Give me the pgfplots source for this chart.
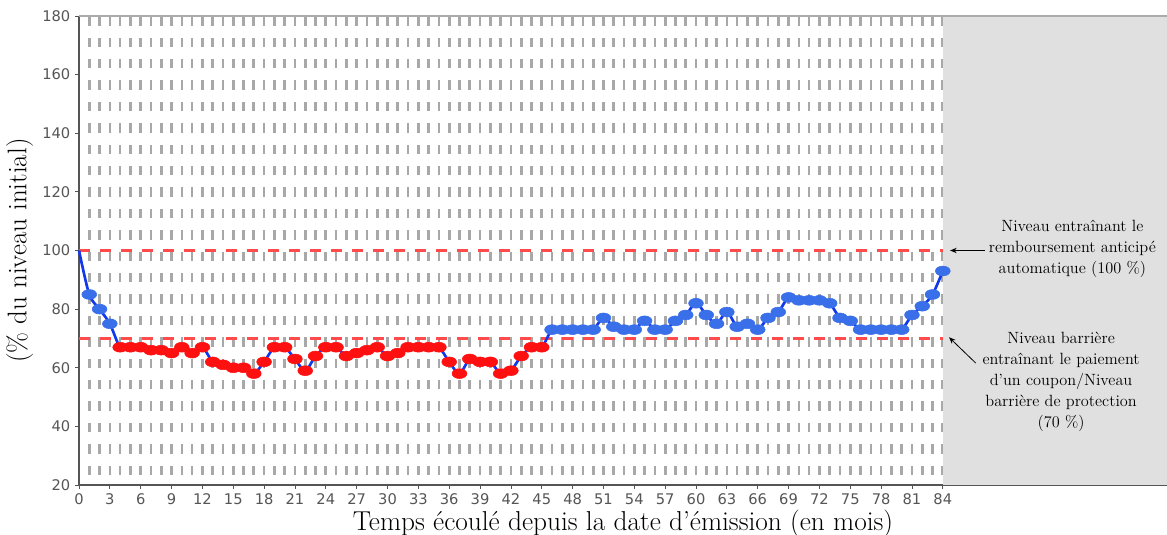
\documentclass[border=0pt]{standalone}
\usepackage{fontspec}
\usepackage{pgfplots}
\usepackage{pgfplotstable}
\pgfplotsset{compat=1.18}
\usetikzlibrary{arrows.meta}

\newfontfamily\tickfont{DejaVu Sans}

\definecolor{lineblue}{HTML}{1238EE}
\definecolor{mkblue}{HTML}{3A6FEA}
\definecolor{mkred}{HTML}{FF1010}
\definecolor{refred}{HTML}{FF4B4B}
\definecolor{gridgrey}{HTML}{A8A8A8}
\definecolor{regionfill}{HTML}{E0E0E0}
\definecolor{axisgrey}{HTML}{555555}
\definecolor{topgrey}{HTML}{ABABAB}

% mois, niveau (% du niveau initial), classe du point (b = au-dessus de 70, r = en dessous)
\pgfplotstableread{
m v c
0 100 b
1 85 b
2 80 b
3 75 b
4 67 r
5 67 r
6 67 r
7 66 r
8 66 r
9 65 r
10 67 r
11 65 r
12 67 r
13 62 r
14 61 r
15 60 r
16 60 r
17 58 r
18 62 r
19 67 r
20 67 r
21 63 r
22 59 r
23 64 r
24 67 r
25 67 r
26 64 r
27 65 r
28 66 r
29 67 r
30 64 r
31 65 r
32 67 r
33 67 r
34 67 r
35 67 r
36 62 r
37 58 r
38 63 r
39 62 r
40 62 r
41 58 r
42 59 r
43 64 r
44 67 r
45 67 r
46 73 b
47 73 b
48 73 b
49 73 b
50 73 b
51 77 b
52 74 b
53 73 b
54 73 b
55 76 b
56 73 b
57 73 b
58 76 b
59 78 b
60 82 b
61 78 b
62 75 b
63 79 b
64 74 b
65 75 b
66 73 b
67 77 b
68 79 b
69 84 b
70 83 b
71 83 b
72 83 b
73 82 b
74 77 b
75 76 b
76 73 b
77 73 b
78 73 b
79 73 b
80 73 b
81 78 b
82 81 b
83 85 b
84 93 b
}\niveau

\begin{document}
\begin{tikzpicture}
\begin{axis}[
    set layers,
    scale only axis,
    width=816pt, height=351.75pt,
    xmin=0, xmax=105.8,
    ymin=20, ymax=180,
    xtick={0,3,...,84},
    ytick={20,40,...,180},
    extra x ticks={1,2,...,84},
    extra x tick labels={},
    extra x tick style={
        grid=major,
        major tick length=0pt,
        major grid style={gridgrey, line width=2pt, dash pattern=on 7pt off 9.05pt, dash phase=8.55pt},
    },
    axis x line*=bottom,
    axis y line*=left,
    axis line style={axisgrey, line width=0.9pt},
    tick align=outside,
    major tick length=3pt,
    tick style={axisgrey, line width=0.6pt},
    tick label style={font=\tickfont\fontsize{11}{13}\selectfont, text=axisgrey},
    /pgf/number format/assume math mode=true,
    clip=false,
]
\coordinate (sw) at (rel axis cs:0,0);
\coordinate (ne) at (rel axis cs:1,1);

\fill[regionfill, on layer=axis background] (axis cs:84,20) rectangle (axis cs:105.8,180);
\draw[topgrey, line width=1.3pt] (rel axis cs:0,1) -- (rel axis cs:1,1);

\addplot[refred, line width=2pt, dash pattern=on 8.25pt off 7.5pt] coordinates {(0,100) (84,100)};
\addplot[refred, line width=2pt, dash pattern=on 8.25pt off 7.5pt] coordinates {(0,70) (84,70)};

\addplot[scatter, only marks, restrict x to domain=0.5:90,
    scatter src=explicit symbolic,
    mark options={xscale=1.5},
    scatter/classes={b={mark=*, mark size=3.7pt, mkblue}, r={mark=*, mark size=3.7pt, mkred}}]
    table[x=m, y=v, meta=c] \niveau;

\addplot[lineblue, line width=2pt, smooth, tension=0.5, no markers] table[x=m, y=v] \niveau;

\node[align=center, font=\fontsize{12.2}{15.75}\selectfont] at (axis cs:96.6,100.6)
    {Niveau entraînant le\\remboursement anticipé\\automatique (100~\%)};
\node[align=center, font=\fontsize{12.2}{15.75}\selectfont] at (axis cs:95.5,55.3)
    {Niveau barrière\\entraînant le paiement\\d’un coupon/Niveau\\barrière de protection\\(70~\%)};
\draw[-{Stealth[length=5pt,width=4pt]}, line width=0.6pt] (axis cs:88.1,100) -- (axis cs:84.7,100);
\draw[-{Stealth[length=5pt,width=4pt]}, line width=0.6pt] (axis cs:87.2,61.6) -- (axis cs:84.6,70.4);

\node[anchor=base, font=\fontsize{20.5}{22}\selectfont] at ([yshift=-34.5pt]rel axis cs:0.5,0)
    {Temps écoulé depuis la date d’émission (en mois)};
\node[rotate=90, font=\fontsize{20.2}{22}\selectfont] at ([xshift=-44.5pt]rel axis cs:0,0.5)
    {(\% du niveau initial)};
\end{axis}
\pgfresetboundingbox
\path ([shift={(-59.25pt,-37.5pt)}]sw) rectangle ([shift={(0pt,12pt)}]ne);
\end{tikzpicture}
\end{document}
